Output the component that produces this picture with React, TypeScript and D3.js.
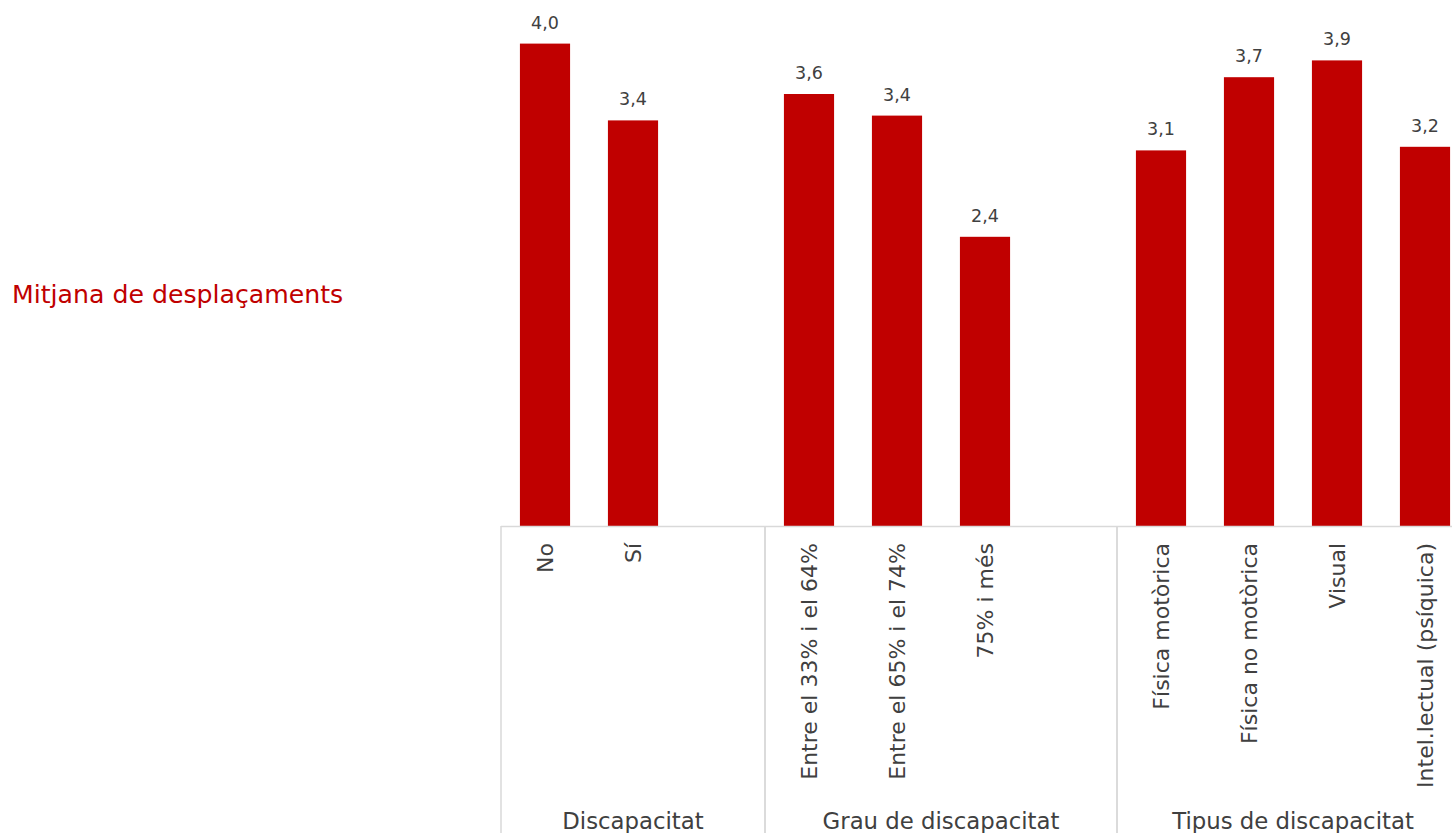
import React from "react";
import * as d3 from "d3";

const groups = ["Discapacitat", "Grau de discapacitat", "Tipus de discapacitat"];
const categories = [
  "No", "Sí", "",
  "Entre el 33% i el 64%", "Entre el 65% i el 74%", "75% i més", "",
  "Física motòrica", "Física no motòrica", "Visual", "Intel.lectual (psíquica)",
];
const categoryGroup = [0, 0, 0, 1, 1, 1, 1, 2, 2, 2, 2];
const values: (number | null)[] = [
  4.02, 3.38, null,
  3.6, 3.42, 2.41, null,
  3.13, 3.74, 3.88, 3.16,
];
const title = "Mitjana de desplaçaments";

const W = 1452;
const H = 833;
const FONT = "'DejaVu Sans', sans-serif";
const RED = "#C00000";
const GREY = "#404040";
const LINE = "#D9D9D9";

export default function App() {
  const slots = categories.map((_, i) => String(i));
  const x = d3.scaleBand<string>().domain(slots).range([501, 1469]).padding(0);
  const y = d3.scaleLinear().domain([0, 4.5]).range([526, -14]);
  const bw = x.bandwidth() * 0.57;
  const fmt = (v: number) => d3.format(".1f")(v).replace(".", ",");

  const groupSpans = groups.map((g, gi) => {
    const idx = categoryGroup.map((c, i) => (c === gi ? i : -1)).filter((i) => i >= 0);
    const x0 = x(String(idx[0]))!;
    const x1 = x(String(idx[idx.length - 1]))! + x.bandwidth();
    return { g, x0, x1 };
  });

  const baseY = y(0);

  return (
    <svg
      width={W}
      height={H}
      style={{ position: "absolute", left: 0, top: 0, background: "#fff" }}
      fontFamily={FONT}
    >
      <text x={12} y={303} fill={RED} fontSize={25.2}>
        {title}
      </text>

      {/* bars */}
      {values.map((v, i) =>
        v == null ? null : (
          <g key={i}>
            <rect
              x={x(String(i))! + (x.bandwidth() - bw) / 2}
              y={y(v)}
              width={bw}
              height={baseY - y(v)}
              fill={RED}
            />
            <text
              x={x(String(i))! + x.bandwidth() / 2}
              y={y(v) - 15}
              textAnchor="middle"
              fill={GREY}
              fontSize={17.5}
            >
              {fmt(v)}
            </text>
          </g>
        )
      )}

      {/* axis line */}
      <line x1={501} x2={1469} y1={baseY + 0.5} y2={baseY + 0.5} stroke={LINE} strokeWidth={1.5} />

      {/* group separators */}
      {groupSpans.map((s, i) => (
        <g key={i}>
          <line x1={s.x0} x2={s.x0} y1={baseY} y2={H} stroke={LINE} strokeWidth={1.5} />
          <line x1={s.x1} x2={s.x1} y1={baseY} y2={H} stroke={LINE} strokeWidth={1.5} />
          <text
            x={(s.x0 + s.x1) / 2}
            y={829}
            textAnchor="middle"
            fill={GREY}
            fontSize={22.8}
          >
            {s.g}
          </text>
        </g>
      ))}

      {/* category tick labels */}
      {categories.map((c, i) =>
        c === "" ? null : (
          <text
            key={i}
            transform={`translate(${x(String(i))! + x.bandwidth() / 2},543) rotate(-90)`}
            textAnchor="end"
            dy="0.35em"
            fill={GREY}
            fontSize={22}
          >
            {c}
          </text>
        )
      )}
    </svg>
  );
}
